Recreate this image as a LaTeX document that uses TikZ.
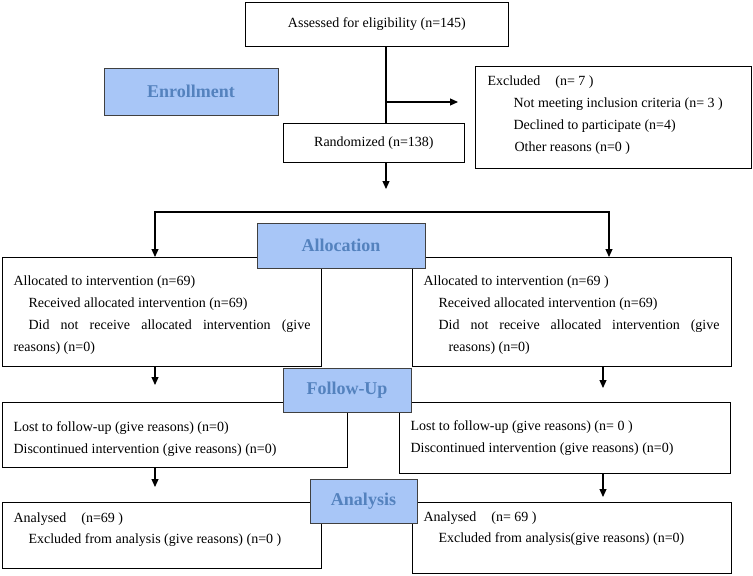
\documentclass[tikz,border=0pt]{standalone}
\usepackage{fontspec}
\setmainfont{Liberation Serif}
\usetikzlibrary{positioning,arrows.meta}
\definecolor{headfill}{RGB}{168,198,247}
\definecolor{headtext}{RGB}{84,130,190}

\begin{document}
\begin{tikzpicture}[%
	x=1pt, y=-1pt,
	font=\fontsize{14}{22.2}\selectfont,
	->,
	>={Triangle[length=8pt,width=7pt]},
	line width=1.1pt,
	box/.style={%
		rectangle,
		anchor=north west,
		inner sep=0pt,
		line width=0.8pt,
		draw
	},
	head/.style={%
		rectangle,
		fill=headfill,
		draw=black!75,
		line width=0.8pt,
		text=headtext,
		font=\fontsize{18}{20}\selectfont\bfseries,
		inner sep=0pt
	},
	txt/.style={%
		anchor=north west,
		align=left,
		inner sep=0pt
	}
	]
	\useasboundingbox (0,0) rectangle (753,576);

	% enrollment
	\node[box, minimum width=263, minimum height=44] (assess) at (245,2) {Assessed for eligibility (n=145)};
	\node[box, minimum width=276, minimum height=102] (excluded) at (475,66) {};
	\node[box, minimum width=181, minimum height=39] (random) at (283,123) {Randomized (n=138)};
	\node[txt] (excludedText) at (487,75) {Excluded\hspace{15pt}(n= 7 )\\
		\hspace*{26pt}Not meeting inclusion criteria (n= 3 )\\
		\hspace*{26pt}Declined to participate (n=4)\\
		\hspace*{27pt}Other reasons (n=0 )};

	% allocation
	\node[box, minimum width=319, minimum height=109] (allocL) at (2,257) {};
	\node[box, minimum width=319, minimum height=109] (allocR) at (412,257) {};
	\node[txt] (allocLText) at (13,275) {Allocated to intervention (n=69)\\
		\hspace*{15pt}Received allocated intervention (n=69)\\
		\hspace*{15pt}\makebox[282pt][s]{Did not receive allocated intervention (give}\\
		reasons) (n=0)};
	\node[txt] (allocRText) at (423,275) {Allocated to intervention (n=69 )\\
		\hspace*{15pt}Received allocated intervention (n=69)\\
		\hspace*{15pt}\makebox[281pt][s]{Did not receive allocated intervention (give}\\
		\hspace*{25pt}reasons) (n=0)};

	% follow-up
	\node[box, minimum width=345, minimum height=65] (followL) at (2,402) {};
	\node[box, minimum width=331, minimum height=71] (followR) at (399,402) {};
	\node[txt] (followLText) at (13,421) {Lost to follow-up (give reasons) (n=0)\\
		Discontinued intervention (give reasons) (n=0)};
	\node[txt] (followRText) at (410,420) {Lost to follow-up (give reasons) (n= 0 )\\
		Discontinued intervention (give reasons) (n=0)};

	% analysis
	\node[box, minimum width=319, minimum height=66] (analysisL) at (2,502) {};
	\node[box, minimum width=319, minimum height=71] (analysisR) at (412,502) {};
	\node[txt, font=\fontsize{14}{21}\selectfont] (analysisLText) at (13,512) {Analysed\hspace{15pt}(n=69 )\\
		\hspace*{15pt}Excluded from analysis (give reasons) (n=0 )};
	\node[txt, font=\fontsize{14}{21}\selectfont] (analysisRText) at (423,511) {Analysed\hspace{15pt}(n= 69 )\\
		\hspace*{15pt}Excluded from analysis(give reasons) (n=0)};

	% connectors
	\coordinate (trunk) at (386,0);
	\coordinate (colL) at (155,0);
	\coordinate (colR) at (603,0);
	\coordinate (forkR) at (609,0);
	\coordinate (split) at (386,102);
	\coordinate (randEnd) at (386,189);
	\coordinate (fork) at (386,212);
	\draw[-] (trunk |- assess.south) -- (trunk |- random.north);
	\draw[shorten >=17pt] (split) -- (split -| excluded.west);
	\draw (trunk |- random.south) -- (randEnd);
	\draw[<->] (colL |- allocL.north) |- (fork) -| (forkR |- allocR.north);
	\draw[shorten >=17pt] (colL |- allocL.south) -- (colL |- followL.north);
	\draw[shorten >=14pt] (colR |- allocR.south) -- (colR |- followR.north);
	\draw[shorten >=15pt] (colL |- followL.south) -- (colL |- analysisL.north);
	\draw[shorten >=5pt] (colR |- followR.south) -- (colR |- analysisR.north);

	% stage labels
	\node[head, minimum width=174, minimum height=47] (enroll) at (191,91.5) {Enrollment};
	\node[head, minimum width=168, minimum height=45] (alloc) at (341,245.5) {Allocation};
	\node[head, minimum width=128, minimum height=44] (follow) at (347,390) {Follow-Up};
	\node[head, minimum width=107, minimum height=44] (analysis) at (363.5,501) {Analysis};
\end{tikzpicture}
\end{document}
